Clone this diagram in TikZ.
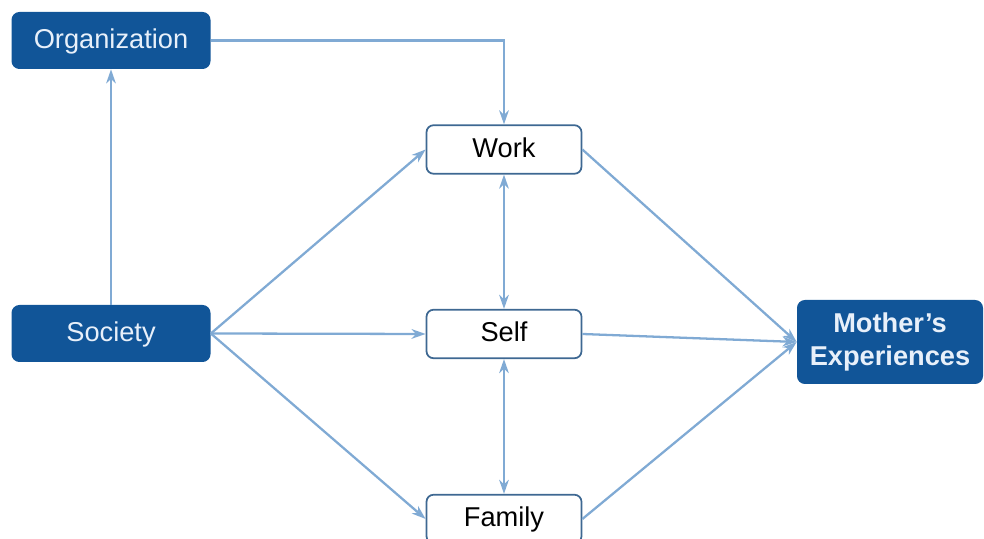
\documentclass[tikz,border=0pt]{standalone}
\usepackage{fontspec}
\setmainfont{Liberation Sans}
\usepackage{tikz}
\usetikzlibrary{positioning,arrows.meta}

\definecolor{darkbox}{RGB}{17,85,152}
\definecolor{linkblue}{RGB}{128,170,212}
\definecolor{rimblue}{RGB}{62,104,146}
\definecolor{paletext}{RGB}{232,240,250}

\tikzset{
	darknode/.style={draw=none, fill=darkbox, rounded corners=4.5pt, text=paletext,
		minimum width=3.98cm, minimum height=1.14cm, inner sep=0pt,
		text height=2.2ex, text depth=0.5ex,
		font=\fontsize{15.5}{17}\selectfont},
	lightnode/.style={draw=rimblue, line width=1pt, fill=white, rounded corners=4pt,
		minimum width=3.1cm, minimum height=0.97cm, inner sep=0pt,
		text height=2.2ex, text depth=0.5ex,
		font=\fontsize{15.5}{17}\selectfont},
	link/.style={draw=linkblue, line width=1.3pt, -{Stealth[length=8pt,width=5.5pt,inset=2.5pt]}},
	biglink/.style={link, {Stealth[length=8pt,width=5.5pt,inset=2.5pt]}-{Stealth[length=8pt,width=5.5pt,inset=2.5pt]}}
}

\begin{document}
\begin{tikzpicture}
	\useasboundingbox (0,0) rectangle (19.68,10.78);
	\node[darknode] (org) at (2.22, 9.97) {Organization};
	\node[darknode] (soc) at (2.22, 4.11) {Society};
	\node[lightnode] (work) at (10.08, 7.79) {Work};
	\node[lightnode] (self) at (10.08, 4.10) {Self};
	\node[lightnode] (fam) at (10.08, 0.40) {Family};
	\node[darknode, minimum width=3.72cm, minimum height=1.68cm, align=center,
		text height=, text depth=,
		font=\fontsize{15.5}{19}\selectfont\bfseries] (moth) at (17.8, 3.94) {Mother’s\\Experiences};
	\draw[link] (soc) -- (org);
	\draw[link] (org.east) -| (work.north);
	\draw[link] (soc.east) -- (work.west);
	\draw[link] (soc.east) -- (self.west);
	\draw[link] (soc.east) -- (fam.west);
	\draw[biglink] (work) -- (self);
	\draw[biglink] (self) -- (fam);
	\draw[link] (work.east) -- (moth.west);
	\draw[link] (self.east) -- (moth.west);
	\draw[link] (fam.east) -- (moth.west);
\end{tikzpicture}
\end{document}
